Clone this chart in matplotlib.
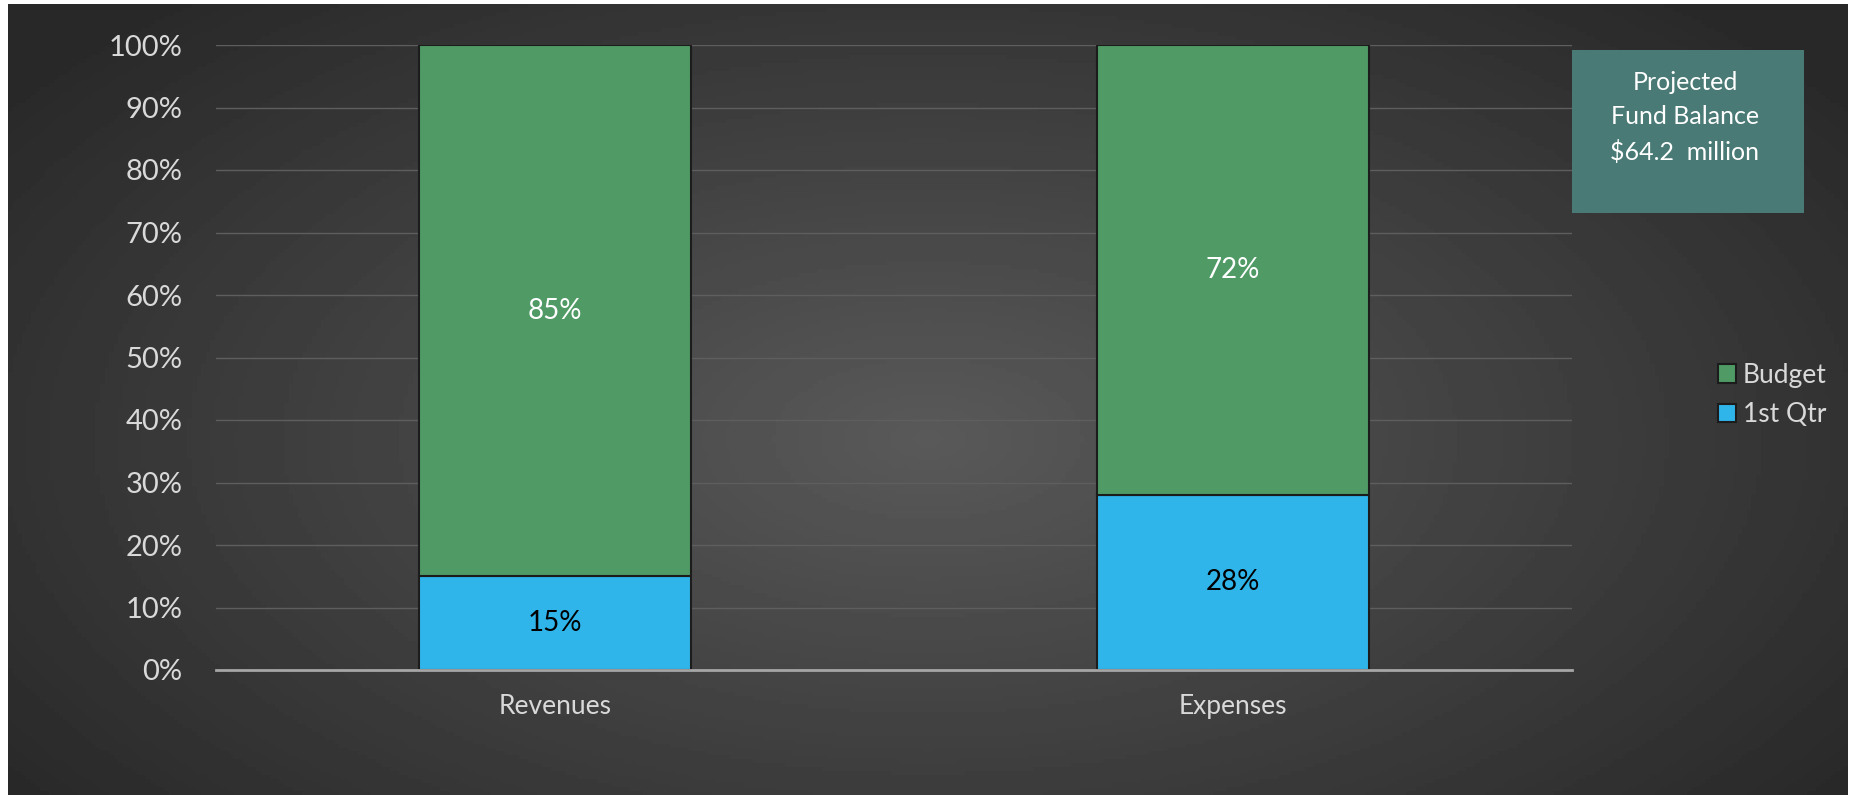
import numpy as np
import matplotlib
matplotlib.use("Agg")
import matplotlib.pyplot as plt
from matplotlib.patches import FancyBboxPatch

categories = ["Revenues", "Expenses"]
first_qtr = [15, 28]
budget = [85, 72]
yticks = [0, 10, 20, 30, 40, 50, 60, 70, 80, 90, 100]
note_lines = ["Projected", "Fund Balance", "$64.2  million"]

W, H, DPI = 1853, 795, 100
plt.rcParams["font.family"] = ["Lato", "DejaVu Sans"]

fig = plt.figure(figsize=(W / DPI, H / DPI), dpi=DPI, facecolor="white")

# dark panel with radial light in the middle
bg = fig.add_axes([8 / W, 0, (1848 - 8) / W, (H - 4) / H])
yy, xx = np.mgrid[0:1:200j, 0:1:400j]
r = np.sqrt(((xx - 0.5) / 0.62) ** 2 + ((yy - 0.55) / 0.75) ** 2)
shade = np.clip(0.35 - 0.19 * r, 0.16, 0.35)
bg.imshow(shade, cmap="gray", vmin=0, vmax=1, aspect="auto", extent=[0, 1, 0, 1])
bg.set_axis_off()

x0, x1 = 216, 1572
y0, y1 = 670, 45
ax = fig.add_axes([x0 / W, 1 - y0 / H, (x1 - x0) / W, (y0 - y1) / H])
ax.patch.set_alpha(0)

x = np.arange(len(categories))
blue = ax.bar(x, first_qtr, width=0.4, color="#2fb5ea", edgecolor="#1c1c1c",
              linewidth=1.5, label="1st Qtr", zorder=3)
green = ax.bar(x, budget, width=0.4, bottom=first_qtr, color="#4f9a65",
               edgecolor="#1c1c1c", linewidth=1.5, label="Budget", zorder=3)

for i in x:
    ax.text(i, first_qtr[i] / 2, f"{first_qtr[i]}%", ha="center", va="center",
            fontsize=20, color="black", zorder=4)
    ax.text(i, first_qtr[i] + budget[i] / 2, f"{budget[i]}%", ha="center",
            va="center", fontsize=20, color="white", zorder=4)

ax.set_xlim(-0.5, 1.5)
ax.set_ylim(0, 100)
ax.set_yticks(yticks)
ax.set_yticklabels([f"{t}%" for t in yticks])
ax.set_xticks(x)
ax.set_xticklabels(categories)
ax.tick_params(axis="y", length=0, pad=24, labelsize=21, labelcolor="#d9d9d9")
ax.tick_params(axis="x", length=0, pad=17, labelsize=19, labelcolor="#d9d9d9")
ax.grid(axis="y", color="#5e5e5e", linewidth=1, zorder=0)
for side in ["top", "right", "left"]:
    ax.spines[side].set_visible(False)
ax.spines["bottom"].set_color("#a6a6a6")
ax.spines["bottom"].set_linewidth(2)
ax.spines["bottom"].set_zorder(5)

leg = ax.legend(handles=[green, blue], loc="center left",
                bbox_to_anchor=(1.09, 0.44), frameon=False, fontsize=19,
                labelcolor="#d9d9d9", handlelength=0.7, handleheight=0.7,
                handletextpad=0.25, labelspacing=0.55)

# projected fund balance box
bx0, bx1, by0, by1 = 1572, 1804, 50, 213
box = FancyBboxPatch((bx0 / W, 1 - by1 / H), (bx1 - bx0) / W, (by1 - by0) / H,
                     boxstyle="square,pad=0", transform=fig.transFigure,
                     facecolor="#4a7a75", edgecolor="none")
fig.patches.append(box)
for k, line in enumerate(note_lines):
    fig.text(1685 / W, 1 - (82 + 35 * k) / H, line, ha="center", va="center",
             fontsize=18, color="white")

fig.savefig("out.png", dpi=DPI, facecolor="white")
